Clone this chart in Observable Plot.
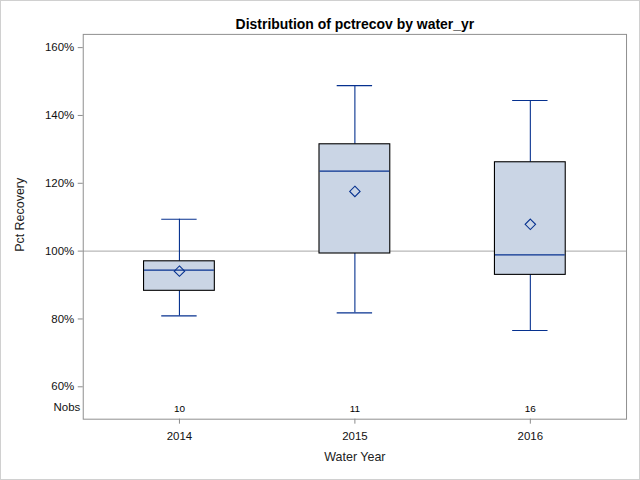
<!DOCTYPE html>
<html>
<head>
<meta charset="utf-8">
<script src="https://cdn.jsdelivr.net/npm/d3@7"></script>
<script src="https://cdn.jsdelivr.net/npm/@observablehq/plot@0.6"></script>
<style>
  html, body { margin: 0; padding: 0; background: #fff; }
  #chart { width: 640px; height: 480px; position: relative; box-sizing: border-box; border: 1px solid #d0d0d0; overflow: hidden; }
  #chart svg { position: absolute; left: -1px; top: -1px; }
</style>
</head>
<body>
<div id="chart"></div>
<script>
const years = ["2014", "2015", "2016"];
const nobs = [10, 11, 16];
const whiskerLow = [80.9, 81.8, 76.6];
const q1 = [88.3, 99.3, 93.0];
const median = [94.4, 123.6, 98.9];
const q3 = [97.0, 131.5, 126.2];
const whiskerHigh = [109.4, 148.8, 144.4];
const means = [94.1, 117.6, 107.9];
const yTicks = [60, 80, 100, 120, 140, 160];

const data = years.map((y, i) => ({
  year: y, n: nobs[i], lo: whiskerLow[i], q1: q1[i], med: median[i],
  q3: q3[i], hi: whiskerHigh[i], mean: means[i]
}));

const blue = "#06318f";
const boxFill = "#cad5e5";
const capInset = 17.75;
const font = "'Liberation Sans', Arial, sans-serif";

const chart = Plot.plot({
  width: 640,
  height: 480,
  marginTop: 34,
  marginBottom: 60,
  marginLeft: 83,
  marginRight: 12,
  style: { fontFamily: font, fontSize: "11px", color: "#111", background: "transparent" },
  x: { type: "band", domain: years, paddingInner: 0.598, paddingOuter: 0.343, align: 0.5 },
  y: { domain: [50.45, 163.9] },
  marks: [
    Plot.ruleY([100], { stroke: "#a6a6a6", strokeWidth: 1 }),
    Plot.ruleX(data, { x: "year", y1: "lo", y2: "q1", stroke: blue, strokeWidth: 1.1 }),
    Plot.ruleX(data, { x: "year", y1: "q3", y2: "hi", stroke: blue, strokeWidth: 1.1 }),
    Plot.tickY(data, { x: "year", y: "lo", insetLeft: capInset, insetRight: capInset, stroke: blue, strokeWidth: 1.1 }),
    Plot.tickY(data, { x: "year", y: "hi", insetLeft: capInset, insetRight: capInset, stroke: blue, strokeWidth: 1.1 }),
    Plot.barY(data, { x: "year", y1: "q1", y2: "q3", fill: boxFill, stroke: "#000", strokeWidth: 1.1 }),
    Plot.tickY(data, { x: "year", y: "med", stroke: blue, strokeWidth: 1.1, insetLeft: 0.5, insetRight: 0.5 }),
    Plot.dot(data, { x: "year", y: "mean", symbol: "diamond2", r: 4.7, stroke: blue, fill: "none", strokeWidth: 1.1 }),
    Plot.text(data, { x: "year", text: d => String(d.n), frameAnchor: "bottom", dy: -7, fontSize: 10, fill: "#000" }),
    Plot.text(["Nobs"], { frameAnchor: "bottom-left", dx: -3, dy: -8, textAnchor: "end", fontSize: 11.5, fill: "#111" }),
    Plot.axisY({ ticks: yTicks, tickFormat: d => d + "%", tickSize: 5, tickPadding: 4, stroke: "#8c8c8c", label: null, fontSize: 11.5 }),
    Plot.axisX({ tickSize: 5, tickPadding: 8, stroke: "#8c8c8c", label: null, fontSize: 11.5 }),
    Plot.frame({ stroke: "#8f8f8f", strokeWidth: 1 }),
    Plot.text(["Distribution of pctrecov by water_yr"], { frameAnchor: "top", dy: -15, fontSize: 14, fontWeight: "bold", fill: "#000" }),
    Plot.text(["Water Year"], { frameAnchor: "bottom", dy: 42, fontSize: 12.5, fill: "#222" }),
    Plot.text(["Pct Recovery"], { frameAnchor: "left", dx: -63, dy: -12, rotate: -90, textAnchor: "middle", fontSize: 12.5, fill: "#222" })
  ]
});
document.getElementById("chart").appendChild(chart);
</script>
</body>
</html>
